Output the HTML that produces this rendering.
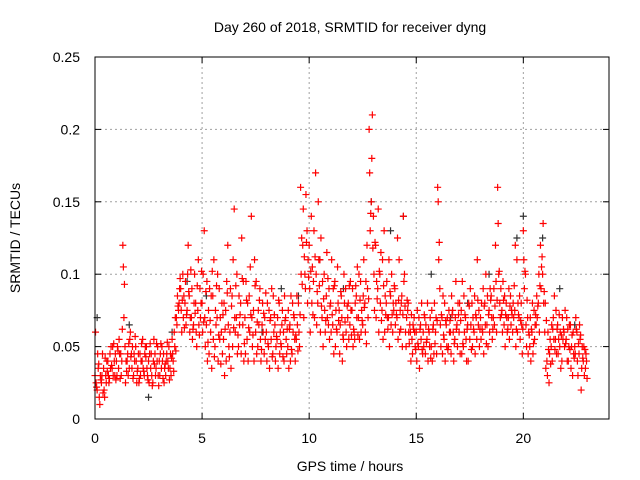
<!DOCTYPE html>
<html><head><meta charset="utf-8"><style>
body{margin:0;background:#fff}
svg{display:block;font-family:"Liberation Sans",sans-serif}
</style></head><body>
<svg id="c" width="640" height="480" xmlns="http://www.w3.org/2000/svg">
<text x="350" y="32" text-anchor="middle" font-size="14">Day 260 of 2018, SRMTID for receiver dyng</text>
<text transform="translate(20,238) rotate(-90)" text-anchor="middle" font-size="14">SRMTID / TECUs</text>
<text x="350" y="471" text-anchor="middle" font-size="14">GPS time / hours</text>
<g id="grid"></g>
<g id="ticks"></g>
<g id="black"></g>
<g id="red"></g>
<rect x="95" y="57" width="514" height="362" fill="none" stroke="#000"/>
</svg>
<script>
const xTicks=[0,5,10,15,20];
const yTicks=[0,0.05,0.1,0.15,0.2,0.25];
const yTickLabels=["0","0.05","0.1","0.15","0.2","0.25"];
const binHours=0.1;
const redA=[.030,.020,.015,.025,.035,.030,.040,.045,.035,.040,
.040,.035,.045,.120,.050,.040,.035,.045,.030,.050,
.035,.045,.040,.030,.050,.040,.035,.025,.045,.040,
.040,.035,.045,.030,.040,.035,.055,.060,.070,.075,
.090,.100,.080,.075,.085,.070,.065,.080,.075,.090,
.080,.130,.065,.075,.060,.085,.050,.070,.090,.060,
.055,.075,.120,.060,.085,.145,.070,.050,.080,.065,
.070,.055,.085,.140,.075,.060,.050,.090,.065,.045,
.060,.050,.070,.045,.065,.055,.080,.050,.060,.070,
.050,.065,.045,.070,.055,.080,.160,.120,.100,.130,
.120,.140,.095,.170,.080,.110,.070,.100,.085,.065,
.080,.065,.095,.060,.075,.085,.055,.090,.070,.065,
.075,.060,.085,.070,.095,.065,.080,.120,.200,.150,
.140,.120,.090,.100,.075,.130,.080,.070,.085,.060,
.090,.070,.110,.080,.140,.060,.075,.065,.055,.070,
.060,.050,.065,.045,.070,.055,.060,.050,.065,.060,
.160,.090,.070,.055,.065,.050,.060,.075,.055,.065,
.060,.075,.050,.070,.065,.055,.080,.060,.070,.065,
.070,.060,.080,.065,.075,.085,.070,.120,.160,.080,
.075,.065,.080,.070,.085,.060,.075,.110,.070,.080,
.130,.100,.070,.050,.060,.075,.065,.080,.120,.100,
.060,.040,.025,.050,.070,.055,.065,.050,.040,.060,
.055,.040,.065,.030,.050,.060,.045,.020,.040,.035];
const redB=[.060,.045,.010,.030,.020,.025,.030,.035,.050,.030,
.030,.055,.030,.105,.025,.045,.055,.035,.045,.040,
.045,.030,.055,.045,.035,.025,.045,.040,.030,.050,
.030,.050,.025,.040,.035,.045,.045,.050,.065,.080,
.075,.070,.095,.100,.060,.090,.080,.060,.110,.070,
.060,.070,.095,.045,.085,.055,.075,.100,.055,.080,
.080,.040,.065,.090,.050,.070,.100,.085,.045,.095,
.045,.080,.060,.070,.040,.095,.075,.055,.080,.070,
.040,.075,.055,.085,.040,.070,.045,.065,.040,.055,
.075,.040,.080,.055,.085,.060,.100,.145,.090,.080,
.090,.080,.130,.100,.150,.060,.095,.075,.115,.090,
.060,.090,.050,.105,.045,.070,.100,.060,.080,.095,
.090,.055,.070,.100,.060,.085,.060,.090,.170,.180,
.100,.070,.145,.080,.110,.060,.095,.110,.065,.080,
.065,.125,.060,.085,.095,.050,.080,.060,.045,.060,
.040,.070,.055,.060,.045,.080,.050,.075,.045,.070,
.150,.065,.045,.080,.050,.075,.045,.060,.070,.050,
.080,.045,.085,.055,.040,.090,.050,.085,.055,.075,
.055,.090,.065,.085,.060,.070,.090,.095,.135,.070,
.060,.085,.070,.090,.065,.080,.120,.060,.085,.065,
.110,.065,.045,.070,.080,.055,.085,.100,.090,.135,
.080,.030,.045,.065,.055,.075,.045,.060,.070,.050,
.070,.050,.035,.060,.045,.040,.065,.035,.050,.045];
const redC=[.025,.035,.030,.045,.015,.040,.025,.050,.030,.045,
.050,.045,.040,.070,.040,.030,.060,.050,.040,.025,
.025,.040,.035,.050,.030,.045,.030,.055,.035,.030,
.045,.040,.035,.045,.050,.030,.040,.070,.085,.090,
.060,.085,.065,.120,.070,.055,.100,.050,.065,.080,
.100,.050,.040,.090,.035,.110,.065,.040,.070,.045,
.030,.095,.050,.035,.110,.060,.045,.065,.125,.040,
.095,.040,.105,.050,.110,.045,.065,.040,.060,.055,
.080,.035,.090,.060,.050,.035,.060,.075,.085,.045,
.035,.085,.060,.040,.065,.050,.125,.070,.155,.110,
.060,.105,.070,.065,.110,.125,.050,.060,.070,.055,
.110,.045,.075,.080,.065,.040,.080,.050,.055,.075,
.050,.080,.105,.055,.075,.110,.095,.070,.130,.210,
.075,.095,.060,.115,.055,.085,.070,.050,.100,.075,
.080,.055,.075,.050,.100,.070,.060,.040,.065,.050,
.075,.035,.080,.050,.065,.040,.070,.040,.080,.045,
.110,.050,.085,.040,.070,.060,.085,.040,.095,.080,
.045,.095,.060,.040,.080,.065,.070,.045,.110,.050,
.080,.045,.100,.050,.090,.055,.065,.060,.100,.090,
.095,.050,.060,.055,.075,.070,.050,.080,.055,.045,
.090,.050,.060,.040,.045,.065,.070,.060,.105,.080,
.035,.060,.055,.040,.085,.045,.055,.035,.055,.075,
.040,.065,.050,.045,.070,.030,.055,.050,.030,.040];
const redD=[.022,.038,.027,.018,.042,.033,.028,.037,.052,.027,
.047,.028,.062,.093,.033,.052,.043,.028,.057,.033,
.028,.052,.033,.043,.027,.052,.023,.038,.052,.023,
.052,.028,.038,.053,.027,.042,.033,.047,.078,.097,
.082,.063,.072,.088,.103,.062,.073,.092,.058,.102,
.067,.088,.053,.068,.102,.043,.092,.058,.038,.072,
.062,.087,.043,.078,.063,.092,.058,.072,.097,.052,
.082,.063,.072,.058,.092,.067,.082,.048,.073,.087,
.052,.068,.043,.072,.057,.082,.052,.043,.068,.062,
.062,.048,.072,.058,.047,.072,.093,.112,.122,.098,
.102,.072,.112,.088,.092,.078,.083,.068,.097,.078,
.072,.092,.062,.068,.088,.058,.067,.078,.092,.058,
.062,.092,.058,.082,.068,.077,.052,.083,.142,.118,
.122,.083,.102,.068,.092,.072,.062,.088,.072,.092,
.072,.082,.062,.072,.078,.082,.052,.072,.062,.048,
.052,.062,.048,.072,.053,.062,.042,.062,.052,.068,
.122,.072,.058,.068,.048,.068,.072,.052,.062,.072,
.068,.052,.072,.062,.078,.048,.062,.072,.082,.062,
.062,.078,.052,.072,.082,.062,.078,.082,.102,.072,
.082,.072,.062,.078,.072,.092,.062,.072,.068,.062,
.102,.082,.058,.062,.052,.072,.078,.092,.112,.088,
.068,.048,.038,.062,.048,.062,.072,.058,.062,.052,
.062,.048,.058,.042,.062,.052,.058,.042,.048,.028];
const blackT=[0.1,1.6,2.5,3.6,4.3,5.2,7.8,8.7,9.5,10.5,11.6,12.9,13.8,14.4,15.7,16.6,17.4,18.4,19.7,20.0,20.9,21.7,22.4];
const blackV=[0.07,0.065,0.015,0.06,0.095,0.085,0.06,0.09,0.085,0.11,0.09,0.15,0.13,0.14,0.10,0.07,0.08,0.10,0.125,0.14,0.125,0.09,0.065];
const NS="http://www.w3.org/2000/svg";
const L=95,R=609,T=57,B=419;
const xS=v=>L+v/24*(R-L);
const yS=v=>B-v/0.25*(B-T);
function mk(tag,attrs,parent){const e=document.createElementNS(NS,tag);for(const k in attrs)e.setAttribute(k,attrs[k]);parent.appendChild(e);return e;}
const grid=document.getElementById('grid'),ticks=document.getElementById('ticks');
xTicks.forEach(t=>{const x=xS(t);
 if(t>0){const g=mk('line',{x1:x,x2:x,y1:T,y2:B,stroke:'#a0a0a0','stroke-dasharray':'2,3'},grid);
 
 }
 mk('line',{x1:x,x2:x,y1:B,y2:B-6,stroke:'#000'},ticks);mk('line',{x1:x,x2:x,y1:T,y2:T+6,stroke:'#000'},ticks);
 const tx=mk('text',{x:x,y:443,'text-anchor':'middle','font-size':14},ticks);tx.textContent=t;
 
 });
yTicks.forEach((t,i)=>{const y=yS(t);
 if(t>0&&t<0.25){const g=mk('line',{x1:L,x2:R,y1:y,y2:y,stroke:'#a0a0a0','stroke-dasharray':'2,3'},grid);
 
 }
 mk('line',{x1:L,x2:L+6,y1:y,y2:y,stroke:'#000'},ticks);mk('line',{x1:R,x2:R-6,y1:y,y2:y,stroke:'#000'},ticks);
 const tx=mk('text',{x:80,y:y+5,'text-anchor':'end','font-size':14},ticks);tx.textContent=yTickLabels[i];
 
 });
function plus(g,t,v,col){const x=xS(t),y=yS(v);
 const p=mk('path',{d:`M${x-3.5},${y}H${x+3.5}M${x},${y-3.5}V${y+3.5}`,stroke:col,'stroke-width':1.2,fill:'none'},g);
 
 }
const bg=document.getElementById('black');
blackT.forEach((t,i)=>plus(bg,t,blackV[i],'#333'));
const rg=document.getElementById('red');
[[redA,0.0],[redB,0.025],[redC,0.05],[redD,0.075]].forEach(([arr,off])=>arr.forEach((v,i)=>plus(rg,i*binHours+off,v,'#ff0000')));
</script>
</body></html>
